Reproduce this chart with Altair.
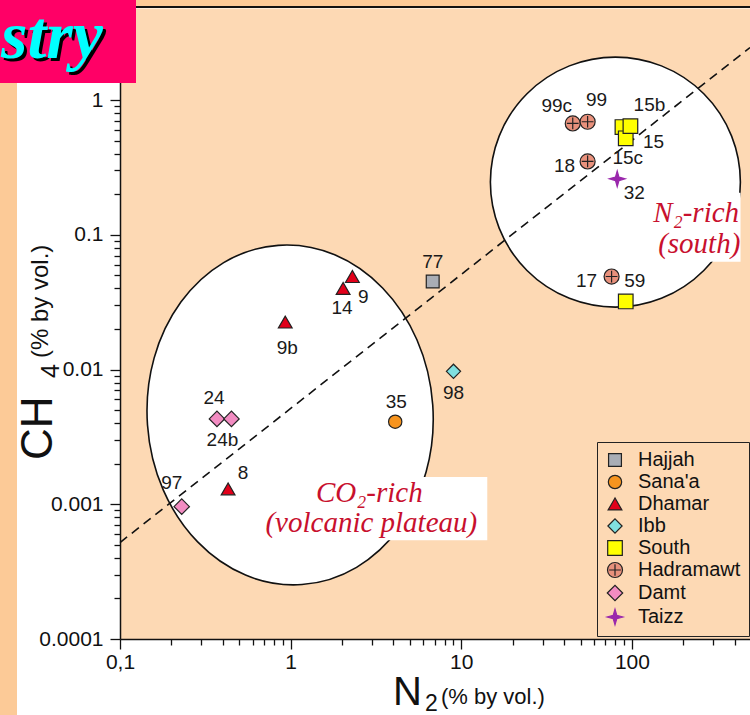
import altair as alt
import pandas as pd

# ---- groups (legend order) ----
regions = ["Hajjah", "Sana'a", "Dhamar", "Ibb", "South", "Hadramawt", "Damt", "Taizz"]
region_fill = ["#A9ADB5", "#F7941E", "#E2001A", "#80E0E0", "#FFFF00", "#E8917C", "#F28CC2", "#9A28AC"]

# ---- gas samples: N2 and CH4 in % by vol. ----
sample_ids = ["77", "35", "9", "14", "9b", "8", "98",
              "15", "15c", "15b", "59",
              "99c", "99", "18", "17",
              "24", "24b", "97", "32"]
sample_region = ["Hajjah", "Sana'a", "Dhamar", "Dhamar", "Dhamar", "Dhamar", "Ibb",
                 "South", "South", "South", "South",
                 "Hadramawt", "Hadramawt", "Hadramawt", "Hadramawt",
                 "Damt", "Damt", "Damt", "Taizz"]
n2 = [6.8, 4.1, 2.3, 2.03, 0.93, 0.43, 9.0,
      88, 92, 98, 92,
      45, 55, 55, 76,
      0.37, 0.45, 0.23, 82]
ch4 = [0.045, 0.0041, 0.049, 0.040, 0.0225, 0.0013, 0.0097,
       0.63, 0.52, 0.64, 0.032,
       0.67, 0.69, 0.35, 0.049,
       0.0043, 0.0043, 0.00096, 0.26]

# ---- CH4/N2 reference line (dashed) ----
line_n2 = [0.1, 492]
line_ch4 = [0.00052, 2.45]

# ---- field outlines (centres) ----
field_n2 = [0.993, 80]
field_ch4 = [0.0046, 0.246]

# ---- field captions ----
caption_text = ["CO₂-rich", "(volcanic plateau)", "N₂-rich", "(south)"]
caption_n2 = [2.89, 2.97, 238, 248]
caption_ch4 = [0.00122, 0.00073, 0.146, 0.086]
# white boxes behind captions
box_n2 = [0.60, 125]
box_n2_end = [14.2, 433]
box_ch4 = [0.00054, 0.063]
box_ch4_end = [0.00159, 0.205]

# ---- styling ----
PEACH = "#FDD9B4"
PEACH_DARK = "#FCCA97"
CAPTION_RED = "#C8102E"
FONT = "Liberation Sans"

HADRAMAWT = "M -1 0 A 1 1 0 1 1 1 0 A 1 1 0 1 1 -1 0 Z M -0.78 0 L 0.78 0 M 0 -0.78 L 0 0.78"
STAR4 = "M 0 -1 L 0.22 -0.22 L 1 0 L 0.22 0.22 L 0 1 L -0.22 0.22 L -1 0 L -0.22 -0.22 Z"
region_shape = ["square", "circle", "triangle-up", "diamond", "square", HADRAMAWT, "diamond", STAR4]
region_size = [165, 250, 380, 330, 170, 280, 330, 480]
region_stroke = ["#222", "#222", "#222", "#222", "#222", "#222", "#222", "#9A28AC"]

W, H = 630, 631
X_DOM = [0.1, 492]
Y_DOM = [0.0001, 4.82]


def log_ticks(lo, hi, vmax):
    vals = []
    for e in range(lo, hi + 1):
        for m in range(1, 10):
            v = float(f"{m}e{e}")
            if v <= vmax:
                vals.append(v)
    return vals


MAJOR = "abs(log(datum.value)/LN10 - round(log(datum.value)/LN10)) < 0.001"
tick_len = {"condition": {"test": MAJOR, "value": 10}, "value": 6}

x_enc = alt.X(
    "n2:Q",
    scale=alt.Scale(type="log", domain=X_DOM, nice=False),
    axis=alt.Axis(
        values=log_ticks(-1, 2, 492), title=None, grid=False,
        labelExpr=f"{MAJOR} ? (datum.value == 0.1 ? '0,1' : format(datum.value, '~g')) : ''",
        tickSize=tick_len, labelFontSize=21, labelPadding=2,
    ),
)
y_enc = alt.Y(
    "ch4:Q",
    scale=alt.Scale(type="log", domain=Y_DOM, nice=False),
    axis=alt.Axis(
        values=log_ticks(-4, 0, 4.82), title=None, grid=False,
        labelExpr=f"{MAJOR} ? format(datum.value, '~g') : ''",
        tickSize=tick_len, labelFontSize=21, labelPadding=7,
    ),
)

samples = pd.DataFrame({"id": sample_ids, "region": sample_region, "n2": n2, "ch4": ch4})
ref_line = pd.DataFrame({"n2": line_n2, "ch4": line_ch4})
fields = pd.DataFrame({"n2": field_n2, "ch4": field_ch4})
captions = pd.DataFrame({"text": caption_text, "n2": caption_n2, "ch4": caption_ch4})
boxes = pd.DataFrame({"n2": box_n2, "n2e": box_n2_end, "ch4": box_ch4, "ch4e": box_ch4_end})
one = pd.DataFrame({"k": [0]})

# ---- surrounding slide furniture ----
left_strip = alt.Chart(one).mark_rect(color=PEACH_DARK).encode(
    x=alt.value(-120), x2=alt.value(-103), y=alt.value(-8), y2=alt.value(707))
top_strip = alt.Chart(one).mark_rect(color=PEACH_DARK).encode(
    x=alt.value(-120), x2=alt.value(W), y=alt.value(-8), y2=alt.value(-1))
top_rule = alt.Chart(one).mark_rule(color="#111", strokeWidth=2).encode(
    x=alt.value(16), x2=alt.value(W), y=alt.value(-1))
title_box = alt.Chart(one).mark_rect(color="#FF0066").encode(
    x=alt.value(-120), x2=alt.value(16), y=alt.value(-8), y2=alt.value(75))
title_shadow = alt.Chart(one).mark_text(
    text="stry", align="right", baseline="alphabetic", font="Liberation Serif",
    fontSize=68, fontStyle="italic", fontWeight="bold", color="#000", dx=3, dy=3,
).encode(x=alt.value(-17), y=alt.value(50))
title_text = alt.Chart(one).mark_text(
    text="stry", align="right", baseline="alphabetic", font="Liberation Serif",
    fontSize=68, fontStyle="italic", fontWeight="bold", color="#00FFFF",
).encode(x=alt.value(-17), y=alt.value(50))

# ---- field outlines ----
ELLIPSE = "M 0 -1 A 0.841 1 0 1 1 0 1 A 0.841 1 0 1 1 0 -1 Z"
left_field = alt.Chart(fields.iloc[[0]]).mark_point(
    shape=ELLIPSE, size=340 ** 2, angle=356, filled=True, fill="white", stroke="#111",
    strokeWidth=1.6, opacity=1,
).encode(x=x_enc, y=y_enc)
right_field = alt.Chart(fields.iloc[[1]]).mark_point(
    shape="circle", size=250 ** 2, filled=True, fill="white", stroke="#111",
    strokeWidth=1.6, opacity=1,
).encode(x=x_enc, y=y_enc)

dashed = alt.Chart(ref_line).mark_line(
    color="#111", strokeWidth=1.6, strokeDash=[9, 6]).encode(x=x_enc, y=y_enc)

caption_boxes = alt.Chart(boxes).mark_rect(color="white").encode(
    x=x_enc, x2="n2e:Q", y=y_enc, y2="ch4e:Q")
caption_marks = alt.Chart(captions).mark_text(
    font="Liberation Serif", fontStyle="italic", fontSize=29, color=CAPTION_RED,
    align="center", baseline="middle",
).encode(x=x_enc, y=y_enc, text="text:N")

# ---- samples ----
legend = alt.Legend(
    title=None, orient="none", legendX=477, legendY=434, padding=8,
    strokeColor="#222", fillColor=PEACH, labelFont=FONT, labelFontSize=20,
    labelColor="#111", symbolStrokeWidth=1.2, labelOffset=13, rowPadding=2,
    labelLimit=300,
)
points = alt.Chart(samples).mark_point(filled=True, opacity=1, strokeWidth=1.2).encode(
    x=x_enc, y=y_enc,
    fill=alt.Fill("region:N", scale=alt.Scale(domain=regions, range=region_fill), legend=legend),
    shape=alt.Shape("region:N", scale=alt.Scale(domain=regions, range=region_shape), legend=legend),
    size=alt.Size("region:N", scale=alt.Scale(domain=regions, range=region_size), legend=legend),
    stroke=alt.Stroke("region:N", scale=alt.Scale(domain=regions, range=region_stroke), legend=legend),
)

# label placement (pixel offsets from each marker)
label_offset = {
    "77": (0, -20), "35": (1, -20), "9": (11, 20), "14": (-1, 20), "9b": (2, 26),
    "8": (15, -16), "98": (0, 22), "24": (-3, -21), "24b": (-9, 21), "97": (-10, -24),
    "99c": (-16, -17), "99": (9, -22), "18": (-23, 5), "17": (-25, 4), "59": (9, -20),
    "32": (17, 14), "15b": (19, -21), "15": (31, 15), "15c": (2, 20),
}
label_layers = []
for sid in sample_ids:
    dx, dy = label_offset[sid]
    label_layers.append(
        alt.Chart(samples).transform_filter(alt.datum.id == sid).mark_text(
            font=FONT, fontSize=19, color="#1a1a1a", align="center", baseline="middle",
            dx=dx, dy=dy,
        ).encode(x=x_enc, y=y_enc, text="id:N")
    )


# ---- axis titles with subscripts ----
def txt(s, x, y, size, angle=0, align="left"):
    kw = dict(text=s, font=FONT, fontSize=size, color="#111", align=align,
              baseline="alphabetic")
    if angle:
        kw["angle"] = angle
    return alt.Chart(one).mark_text(**kw).encode(x=alt.value(x), y=alt.value(y))


x_title = [
    txt("N", 273, 697, 40),
    txt("2", 305, 703, 23),
    txt("(% by vol.)", 321, 696, 22),
]
y_title = [
    txt("CH", -68, 452, 44, angle=270),
    txt("4", -61, 370, 25, angle=270),
    txt("(% by vol.)", -72, 350, 24, angle=270),
]

chart = alt.layer(
    left_strip, top_strip, title_box, title_shadow, title_text, top_rule,
    left_field, right_field, dashed, caption_boxes, caption_marks,
    points, *label_layers, *x_title, *y_title,
).properties(
    width=W, height=H, background="white",
    padding={"left": 120, "top": 8, "right": 0, "bottom": 76},
    autosize=alt.AutoSizeParams(type="none"),
).configure_view(
    fill=PEACH, stroke="transparent",
).configure_axis(
    domainColor="#111", domainWidth=1.5, tickColor="#111", tickWidth=1.3,
    labelFont=FONT, labelColor="#111", labelOverlap=False, labelFlush=False,
    labelBound=False,
)

chart.save("out.html", embed_options={"renderer": "svg", "actions": False})
